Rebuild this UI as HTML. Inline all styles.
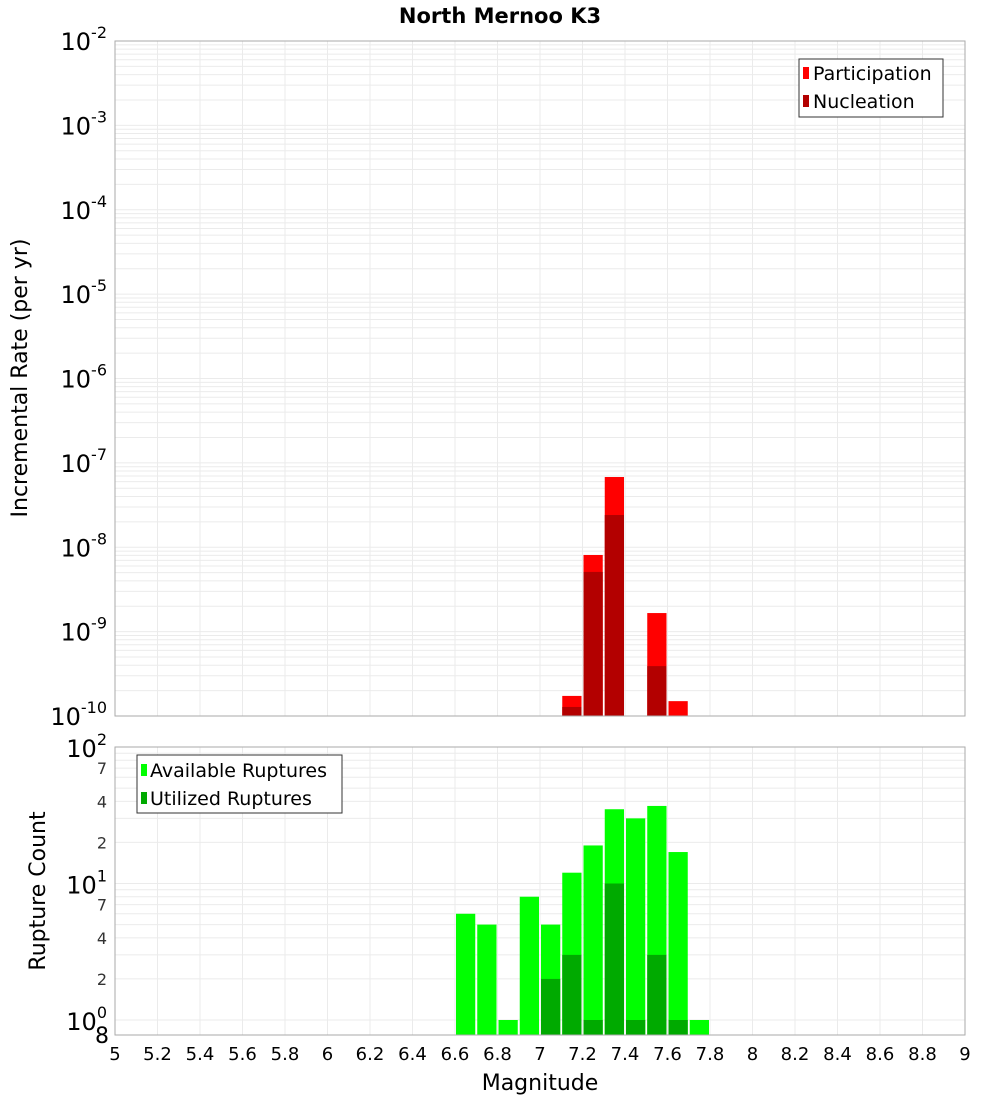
<!DOCTYPE html>
<html><head><meta charset="utf-8"><style>
html,body{margin:0;padding:0;background:#fff;}
svg{display:block;font-family:"DejaVu Sans","Liberation Sans",sans-serif;}
</style></head><body>
<svg id="chart" width="1000" height="1100" viewBox="0 0 1000 1100">
<text x="500" y="23" text-anchor="middle" font-size="21" font-weight="bold">North Mernoo K3</text>
<g id="gtop"></g>
<g id="gbot"></g>
<text transform="translate(27,378) rotate(-90)" text-anchor="middle" font-size="22">Incremental Rate (per yr)</text>
<text transform="translate(45,891) rotate(-90)" text-anchor="middle" font-size="22">Rupture Count</text>
<text x="540" y="1090" text-anchor="middle" font-size="22">Magnitude</text>
<g>
<rect x="799" y="59" width="144" height="58" fill="#fff" stroke="#333"/>
<rect x="803" y="67" width="6" height="12" fill="#ff0000"/>
<text x="813" y="80" font-size="19">Participation</text>
<rect x="803" y="95" width="6" height="12" fill="#b30000"/>
<text x="813" y="108" font-size="19">Nucleation</text>
</g>
<g>
<rect x="137" y="755" width="205" height="58" fill="#fff" stroke="#333"/>
<rect x="141" y="764" width="6" height="12" fill="#00ff00"/>
<text x="150" y="777" font-size="19">Available Ruptures</text>
<rect x="141" y="792" width="6" height="12" fill="#00aa00"/>
<text x="150" y="805" font-size="19">Utilized Ruptures</text>
</g>
</svg>
<script>
const rateMags = [7.1, 7.2, 7.3, 7.5, 7.6];
const participation = [1.73e-10, 8.1e-9, 6.8e-8, 1.66e-9, 1.5e-10];
const nucleation = [1.28e-10, 5.1e-9, 2.41e-8, 3.9e-10, 0];
const countMags = [6.6, 6.7, 6.8, 6.9, 7.0, 7.1, 7.2, 7.3, 7.4, 7.5, 7.6, 7.7];
const available = [6, 5, 1, 8, 5, 12, 19, 35, 30, 37, 17, 1];
const utilized = [0, 0, 0, 0, 2, 3, 1, 10, 1, 3, 1, 0];
const xTicks = [5,5.2,5.4,5.6,5.8,6,6.2,6.4,6.6,6.8,7,7.2,7.4,7.6,7.8,8,8.2,8.4,8.6,8.8,9];
const rateExps = [-2,-3,-4,-5,-6,-7,-8,-9,-10];

const NS="http://www.w3.org/2000/svg";
const L=115,R=965;
const x=m=>L+(m-5)*(R-L)/4;
const T1=41,B1=716, yr=v=>T1+(-2-Math.log10(v))*(B1-T1)/8;
const T2=747,B2=1035, yc=v=>1020-Math.log10(v)*136.5;
function mk(p,tag,a){const e=document.createElementNS(NS,tag);for(const k in a)e.setAttribute(k,a[k]);p.appendChild(e);return e;}
const gTop=document.getElementById('gtop'), gBot=document.getElementById('gbot');

mk(gTop,'rect',{x:L,y:T1,width:R-L,height:B1-T1,fill:'#fff'});
for(let e=-10;e<-2;e++)for(let k=1;k<10;k++){const y=yr(k*Math.pow(10,e));if(y<T1||y>B1)continue;
 const g=mk(gTop,'line',{x1:L,x2:R,y1:y,y2:y,stroke:'#ebebeb','stroke-width':1});
 
 }
xTicks.forEach(t=>{mk(gTop,'line',{x1:x(t),x2:x(t),y1:T1,y2:B1,stroke:'#ebebeb'});mk(gBot,'line',{x1:x(t),x2:x(t),y1:T2,y2:B2,stroke:'#ebebeb'});});
rateMags.forEach((m,i)=>{
 const x0=x(m)+1,w=x(m+0.1)-x(m)-2;
 const p=mk(gTop,'rect',{x:x0,y:yr(participation[i]),width:w,height:B1-yr(participation[i]),fill:'#ff0000'});
 
 
 if(nucleation[i]>0){const n=mk(gTop,'rect',{x:x0,y:yr(nucleation[i]),width:w,height:B1-yr(nucleation[i]),fill:'#b30000'});
 
 }
});
mk(gTop,'rect',{x:L,y:T1,width:R-L,height:B1-T1,fill:'none',stroke:'#aaa'});
rateExps.forEach(e=>{const y=yr(Math.pow(10,e));
 const t=mk(gTop,'text',{x:107,y:y+9,'text-anchor':'end','font-size':24});
 
 
 t.appendChild(document.createTextNode('10'));
 const s=mk(t,'tspan',{dy:-12,'font-size':16}); s.textContent=String(e);});

for(let e=0;e<2;e++)for(let k=1;k<10;k++){const y=yc(k*Math.pow(10,e));
 const g=mk(gBot,'line',{x1:L,x2:R,y1:y,y2:y,stroke:'#ebebeb'});
 
 }
countMags.forEach((m,i)=>{
 const x0=x(m)+1,w=x(m+0.1)-x(m)-2;
 const a=mk(gBot,'rect',{x:x0,y:yc(available[i]),width:w,height:B2-yc(available[i]),fill:'#00ff00'});
 
 
 if(utilized[i]>0){const u=mk(gBot,'rect',{x:x0,y:yc(utilized[i]),width:w,height:B2-yc(utilized[i]),fill:'#00aa00'});
 
 }
});
mk(gBot,'rect',{x:L,y:T2,width:R-L,height:B2-T2,fill:'none',stroke:'#aaa'});
[[100,'2'],[10,'1'],[1,'0']].forEach(([v,s])=>{const y=yc(v);
 const t=mk(gBot,'text',{x:107,y:y+10,'text-anchor':'end','font-size':24});
 
 
 t.appendChild(document.createTextNode('10'));
 const sp=mk(t,'tspan',{dy:-12,'font-size':16}); sp.textContent=s;});
[[70,'7'],[40,'4'],[20,'2'],[7,'7'],[4,'4'],[2,'2']].forEach(([v,s])=>{
 const t=mk(gBot,'text',{x:107,y:yc(v)+6,'text-anchor':'end','font-size':16,fill:'#333'});
 
 
 t.textContent=s;});
const e8=mk(gBot,'text',{x:102,y:1043,'text-anchor':'middle','font-size':22});


e8.textContent='8';
xTicks.forEach(t=>{const el=mk(gBot,'text',{x:x(t),y:1060,'text-anchor':'middle','font-size':18});
 
 
 el.textContent=String(t);});
</script>
</body></html>
